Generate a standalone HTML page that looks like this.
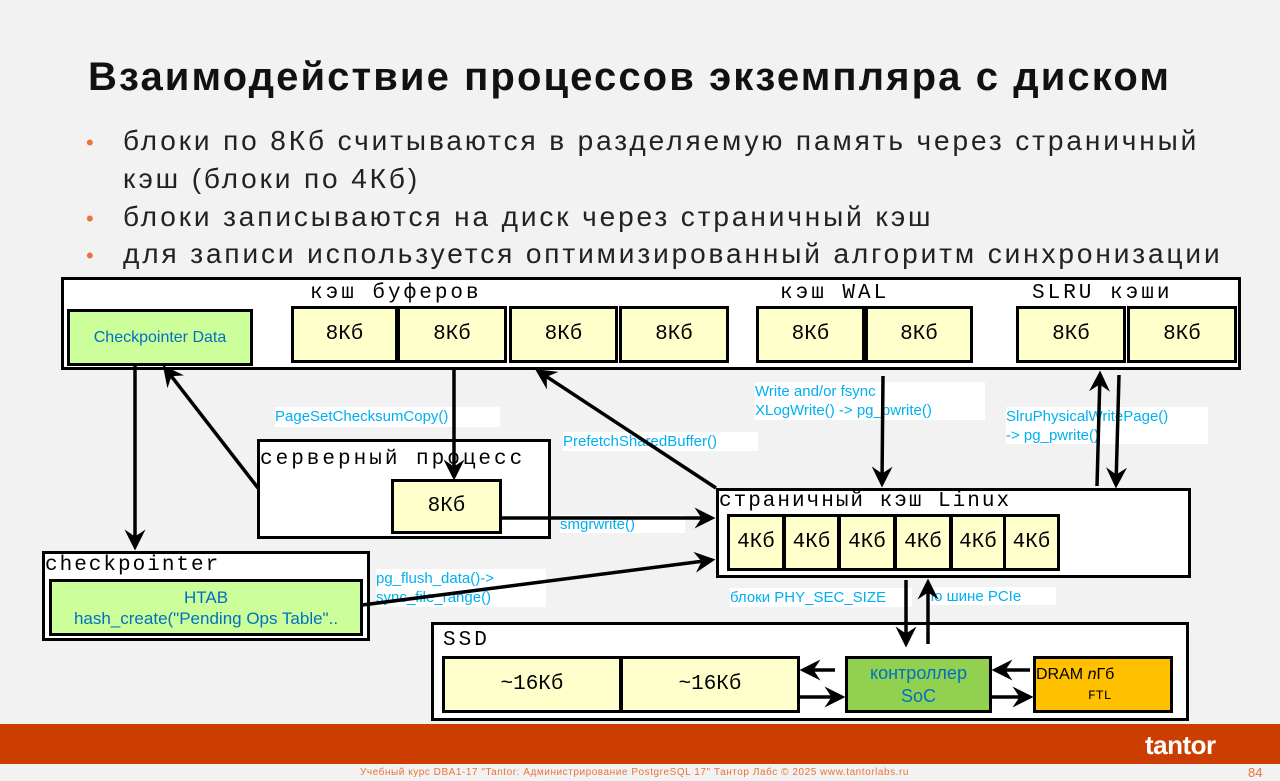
<!DOCTYPE html>
<html><head><meta charset="utf-8"><style>
body{margin:0;width:1280px;height:781px;background:#f2f2f2;position:relative;overflow:hidden;font-family:"Liberation Sans","DejaVu Sans",sans-serif}
.a{position:absolute;box-sizing:border-box}
.bx{position:absolute;box-sizing:border-box;border:3px solid #000;background:#fff}
.y{position:absolute;box-sizing:border-box;border:3px solid #000;background:#ffffcc;font-family:"Liberation Mono",monospace;font-size:21px;display:flex;align-items:center;justify-content:center}
.m{position:absolute;font-family:"Liberation Mono",monospace;font-size:21px;white-space:nowrap;letter-spacing:3px}
.l{position:absolute;background:#fff;color:#00b0f0;font-size:15px;line-height:19px;white-space:nowrap;letter-spacing:0px}
.t{font-size:28px;color:#222;position:absolute;left:123px;white-space:nowrap;letter-spacing:2.9px}
.d{position:absolute;left:86px;color:#e8743b;font-size:22px}
</style></head><body>
<div class="a" style="left:88px;top:55px;font-size:40px;font-weight:bold;color:#111;white-space:nowrap;letter-spacing:2.1px">Взаимодействие процессов экземпляра с диском</div>
<div class="d" style="top:130px">•</div><div class="t" style="top:125px">блоки по 8Кб считываются в разделяемую память через страничный</div>
<div class="t" style="top:163px">кэш (блоки по 4Кб)</div>
<div class="d" style="top:206px">•</div><div class="t" style="top:201px">блоки записываются на диск через страничный кэш</div>
<div class="d" style="top:243px">•</div><div class="t" style="top:238px">для записи используется оптимизированный алгоритм синхронизации</div>

<div class="bx" style="left:61px;top:277px;width:1180px;height:93px"></div>
<div class="m" style="left:310px;top:282px">кэш буферов</div>
<div class="m" style="left:780px;top:282px">кэш WAL</div>
<div class="m" style="left:1032px;top:282px">SLRU кэши</div>
<div class="a" style="left:67px;top:309px;width:186px;height:57px;border:3px solid #000;background:#ccff99;color:#0070c0;font-size:16px;display:flex;align-items:center;justify-content:center">Checkpointer Data</div>
<div class="y" style="left:291px;top:306px;width:107px;height:57px">8Кб</div>
<div class="y" style="left:397px;top:306px;width:110px;height:57px">8Кб</div>
<div class="y" style="left:509px;top:306px;width:109px;height:57px">8Кб</div>
<div class="y" style="left:619px;top:306px;width:110px;height:57px">8Кб</div>
<div class="y" style="left:756px;top:306px;width:109px;height:57px">8Кб</div>
<div class="y" style="left:865px;top:306px;width:108px;height:57px">8Кб</div>
<div class="y" style="left:1016px;top:306px;width:110px;height:57px">8Кб</div>
<div class="y" style="left:1127px;top:306px;width:110px;height:57px">8Кб</div>

<div class="l" style="left:275px;top:407px;width:225px;height:20px">PageSetChecksumCopy()</div>
<div class="l" style="left:563px;top:432px;width:195px;height:19px">PrefetchSharedBuffer()</div>
<div class="l" style="left:755px;top:382px;width:230px;height:38px">Write and/or fsync<br>XLogWrite() -&gt; pg_pwrite()</div>
<div class="l" style="left:1006px;top:407px;width:202px;height:37px">SlruPhysicalWritePage()<br>-&gt; pg_pwrite()</div>
<div class="l" style="left:560px;top:515px;width:125px;height:18px">smgrwrite()</div>
<div class="l" style="left:376px;top:569px;width:170px;height:38px">pg_flush_data()-&gt;<br>sync_file_range()</div>
<div class="l" style="left:730px;top:588px;width:182px;height:19px">блоки PHY_SEC_SIZE</div>
<div class="l" style="left:926px;top:587px;width:130px;height:18px">по шине PCIe</div>

<div class="bx" style="left:257px;top:439px;width:294px;height:100px"></div>
<div class="m" style="left:260px;top:448px">серверный процесс</div>
<div class="y" style="left:391px;top:479px;width:111px;height:55px">8Кб</div>

<div class="bx" style="left:42px;top:551px;width:328px;height:90px"></div>
<div class="m" style="left:45px;top:554px;letter-spacing:2px">checkpointer</div>
<div class="a" style="left:49px;top:579px;width:314px;height:57px;border:3px solid #000;background:#ccff99;color:#0070c0;font-size:17px;line-height:21px;text-align:center;padding-top:5px;white-space:nowrap;overflow:hidden">HTAB<br>hash_create("Pending Ops Table"..</div>

<div class="bx" style="left:716px;top:488px;width:475px;height:90px"></div>
<div class="m" style="left:719px;top:490px;letter-spacing:2px">страничный кэш Linux</div>
<div class="a" style="left:727px;top:514px;width:333px;height:57px;border:3px solid #000;background:#000"></div>
<div class="y" style="left:730px;top:517px;width:52px;height:51px;border:none">4Кб</div>
<div class="y" style="left:786px;top:517px;width:51px;height:51px;border:none">4Кб</div>
<div class="y" style="left:841px;top:517px;width:52px;height:51px;border:none">4Кб</div>
<div class="y" style="left:897px;top:517px;width:52px;height:51px;border:none">4Кб</div>
<div class="y" style="left:953px;top:517px;width:50px;height:51px;border:none">4Кб</div>
<div class="y" style="left:1006px;top:517px;width:51px;height:51px;border:none">4Кб</div>

<div class="bx" style="left:431px;top:622px;width:758px;height:99px"></div>
<div class="m" style="left:443px;top:629px">SSD</div>
<div class="y" style="left:442px;top:656px;width:180px;height:57px">~16Кб</div>
<div class="y" style="left:620px;top:656px;width:180px;height:57px">~16Кб</div>
<div class="a" style="left:845px;top:656px;width:147px;height:57px;border:3px solid #000;background:#92d050;color:#0070c0;font-size:18px;line-height:23px;text-align:center;padding-top:3px">контроллер<br>SoC</div>
<div class="a" style="left:1033px;top:656px;width:140px;height:57px;border:3px solid #000;background:#ffc000;font-size:16px;line-height:20px;padding-top:6px;white-space:nowrap">DRAM <i>n</i>Гб<br><span style="font-family:'Liberation Mono',monospace;font-size:13px;margin-left:52px">FTL</span></div>

<svg class="a" style="left:0;top:0" width="1280" height="781">
<defs><marker id="h" markerWidth="6" markerHeight="6" refX="5" refY="3" orient="auto" markerUnits="strokeWidth"><path d="M0,0 L6,3 L0,6 L2,3z" fill="#000"/></marker></defs>
<g stroke="#000" stroke-width="3.5" fill="none" marker-end="url(#h)">
<line x1="135" y1="366" x2="135" y2="547"/>
<line x1="258" y1="488" x2="165" y2="368"/>
<line x1="454" y1="370" x2="454" y2="477"/>
<line x1="716" y1="488" x2="538" y2="371"/>
<line x1="502" y1="518" x2="712" y2="518"/>
<line x1="362" y1="605" x2="712" y2="560"/>
<line x1="883" y1="376" x2="882" y2="484"/>
<line x1="1097" y1="486" x2="1100" y2="374"/>
<line x1="1119" y1="375" x2="1116" y2="485"/>
<line x1="906" y1="580" x2="906" y2="644"/>
<line x1="928" y1="644" x2="928" y2="582"/>
<line x1="835" y1="670" x2="803" y2="670"/>
<line x1="800" y1="697" x2="842" y2="697"/>
<line x1="1030" y1="670" x2="995" y2="670"/>
<line x1="992" y1="697" x2="1030" y2="697"/>
</g></svg>

<div class="a" style="left:0;top:724px;width:1280px;height:40px;background:#cc3d00"></div>
<div class="a" style="left:1145px;top:730px;color:#fff;font-size:26px;font-weight:bold;letter-spacing:-0.5px">tantor</div>
<div class="a" style="left:360px;top:767px;font-size:10px;color:#e8743b;white-space:nowrap;letter-spacing:0.55px">Учебный курс DBA1-17 "Tantor: Администрирование PostgreSQL 17" Тантор Лабс © 2025 www.tantorlabs.ru</div>
<div class="a" style="left:1248px;top:765px;font-size:13px;color:#e8743b">84</div>
</body></html>
